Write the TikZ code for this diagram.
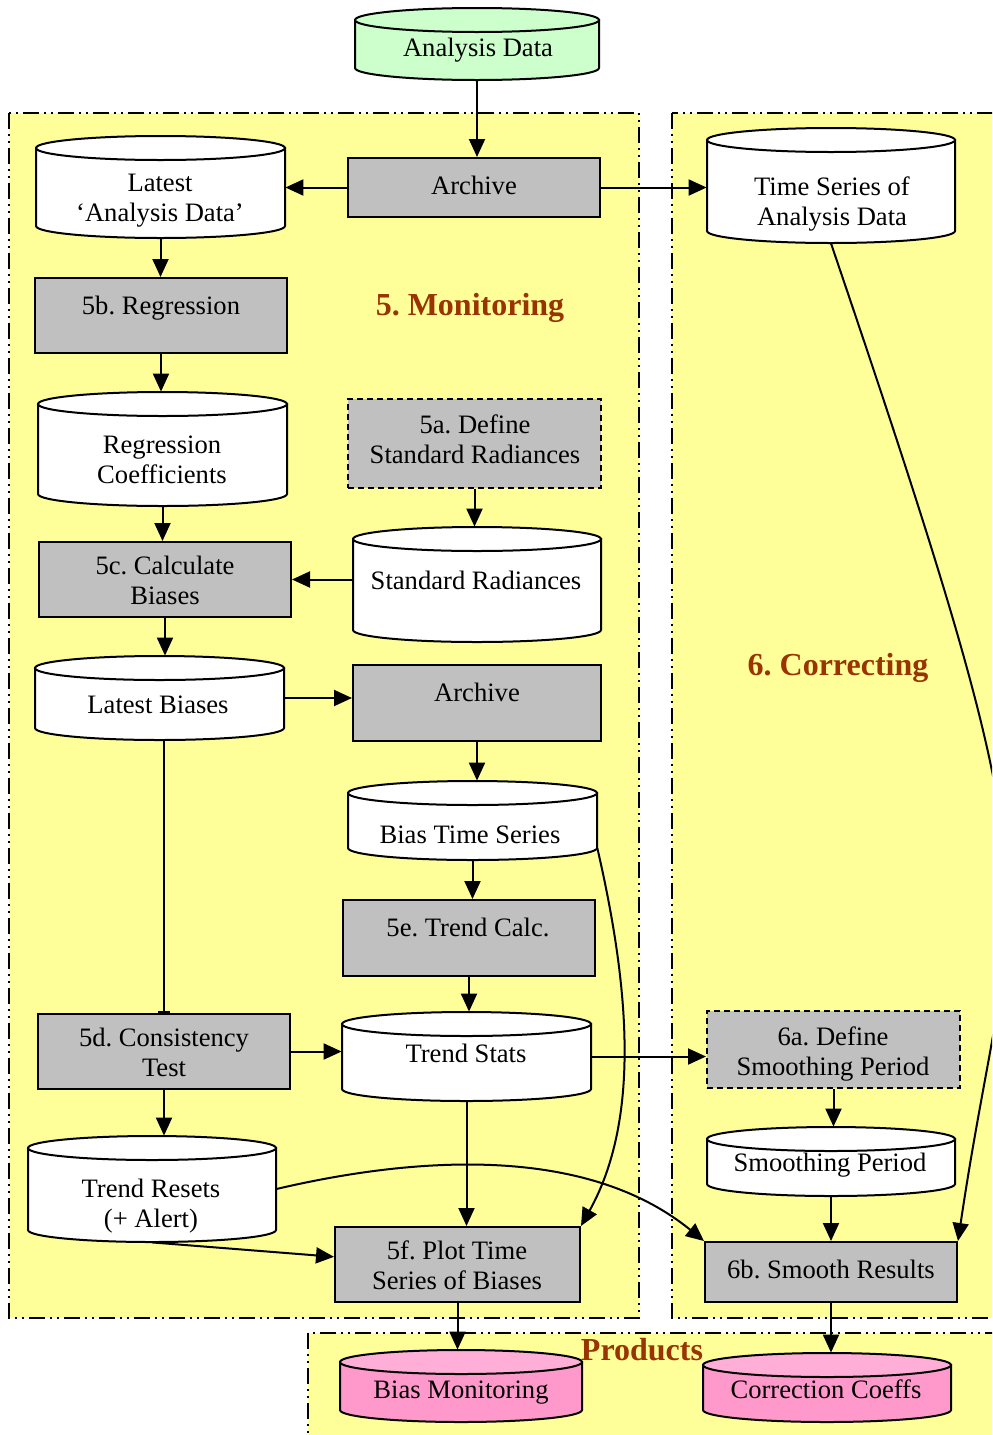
\documentclass[tikz,border=0pt]{standalone}
\usepackage{fontspec}
\setmainfont{Liberation Serif}
\frenchspacing
\usetikzlibrary{arrows.meta,fit,calc}
\definecolor{panelyellow}{RGB}{255,255,153}
\definecolor{boxgray}{RGB}{192,192,192}
\definecolor{datagreen}{RGB}{204,255,204}
\definecolor{prodpink}{RGB}{255,153,204}
\definecolor{prodpinktop}{RGB}{255,175,215}
\definecolor{titlebrown}{RGB}{153,51,0}
\tikzset{
  conn/.style={line width=1pt, -{Triangle[length=9pt,width=8pt]}},
  plainconn/.style={line width=1pt},
  panel/.style={draw, line width=1pt, fill=panelyellow,
    dash pattern=on 8pt off 2.5pt on 1pt off 2.5pt on 1pt off 2.5pt},
  procbox/.style={draw, line width=1pt, fill=boxgray},
  dashbox/.style={procbox, dash pattern=on 3pt off 2pt},
  cylline/.style={line width=1pt},
  lbl/.style={font=\fontsize{13.3}{15}\selectfont, align=center, inner sep=0pt,
    yshift=-1.4pt, execute at begin node=\strut, execute at end node=\strut},
  titletext/.style={font=\fontsize{16}{18}\bfseries\selectfont, text=titlebrown, inner sep=0pt},
}
% box: name, x1, y1, x2, y2, style, text pos, text
\newcommand{\procnode}[8]{%
  \node[#6, fit={(#2,#3)(#4,#5)}, inner sep=0pt] (#1) {};
  \node[lbl] (#1-t) at (#7) {#8};
}
% cylinder: name, x1, y1, x2, y2, body fill, top fill, text pos, text
\newcommand{\cylnode}[9]{%
  \pgfmathsetmacro\cylcx{(#2+#4)/2}%
  \pgfmathsetmacro\cylrx{(#4-#2)/2}%
  \pgfmathsetmacro\cylta{#3+12}%
  \pgfmathsetmacro\cylbb{#5-12}%
  \pgfmathsetmacro\cylbk{#5-12+6.63}%
  \pgfmathsetmacro\cylkl{(#2+#4)/2-0.5523*(#4-#2)/2}%
  \pgfmathsetmacro\cylkr{(#2+#4)/2+0.5523*(#4-#2)/2}%
  \node[fit={(#2,#3)(#4,#5)}, inner sep=0pt] (#1) {};
  \filldraw[cylline, fill=#6] (#2,\cylta) -- (#2,\cylbb)
    .. controls (#2,\cylbk) and (\cylkl,#5) .. (\cylcx,#5)
    .. controls (\cylkr,#5) and (#4,\cylbk) .. (#4,\cylbb) -- (#4,\cylta) -- cycle;
  \filldraw[cylline, fill=#7] (\cylcx,\cylta) ellipse [x radius=\cylrx, y radius=12];
  \node[lbl] (#1-t) at (#8) {#9};
}
\begin{document}
\begin{tikzpicture}[x=0.5pt, y=-0.5pt]
\clip (0,0) rectangle (992,1435);
\fill[white] (0,0) rectangle (992,1435);

% panels
\draw[panel] (9,113) rectangle (639,1318);
\draw[panel] (672,113) rectangle (1010,1318);
\draw[panel] (308,1333) rectangle (1010,1450);

% titles
\node[titletext] (t5) at (470,308) {5. Monitoring};
\node[titletext] (t6) at (838,668) {6. Correcting};
\node[titletext] (tp) at (642,1350) {Products};

% nodes
\cylnode{AD}{355}{8}{599}{80}{datagreen}{datagreen}{478,48}{Analysis Data}
\procnode{A1}{348}{158}{600}{217}{procbox}{474,186}{Archive}
\cylnode{LAD}{36}{136}{285}{238}{white}{white}{160,199}{Latest\\`Analysis Data'}
\cylnode{TS}{707}{128}{955}{243}{white}{white}{832,203}{Time Series of\\Analysis Data}
\procnode{B5}{35}{278}{287}{353}{procbox}{161,306}{5b. Regression}
\cylnode{RC}{38}{392}{287}{506}{white}{white}{162,461}{Regression\\Coefficients}
\procnode{A5}{348}{399}{601}{488}{dashbox}{475,441}{5a. Define\\Standard Radiances}
\cylnode{SR}{353}{527}{601}{642}{white}{white}{476,581}{Standard Radiances}
\procnode{C5}{39}{542}{291}{617}{procbox}{165,582}{5c. Calculate\\Biases}
\cylnode{LB}{35}{656}{284}{740}{white}{white}{158,705}{Latest Biases}
\procnode{A2}{353}{665}{601}{741}{procbox}{477,693}{Archive}
\cylnode{BTS}{348}{781}{597}{860}{white}{white}{470,835}{Bias Time Series}
\procnode{E5}{343}{900}{595}{976}{procbox}{468,928}{5e. Trend Calc.}
\procnode{D5}{38}{1014}{290}{1089}{procbox}{164,1054}{5d. Consistency\\Test}
\cylnode{TSt}{342}{1012}{591}{1101}{white}{white}{466,1054}{Trend Stats}
\procnode{A6}{707}{1011}{960}{1088}{dashbox}{833,1053}{6a. Define\\Smoothing Period}
\cylnode{SP}{707}{1127}{955}{1196}{white}{white}{830,1163}{Smoothing Period}
\cylnode{TR}{28}{1136}{276}{1242}{white}{white}{151,1205}{Trend Resets\\(+ Alert)}
\procnode{F5}{335}{1227}{580}{1302}{procbox}{457,1267}{5f. Plot Time\\Series of Biases}
\procnode{B6}{705}{1242}{957}{1302}{procbox}{831,1270}{6b. Smooth Results}
\cylnode{BM}{340}{1350}{582}{1422}{prodpink}{prodpinktop}{461,1390}{Bias Monitoring}
\cylnode{CC}{703}{1353}{951}{1422}{prodpink}{prodpinktop}{826,1390}{Correction Coeffs}

% connectors
\draw[conn] (AD.south) -- (AD.south |- A1.north);
\draw[conn] (A1.west) -- (A1.west -| LAD.east);
\draw[conn] (A1.east) -- (A1.east -| TS.west);
\draw[conn] (LAD.south) -- (LAD.south |- B5.north);
\draw[conn] (B5.south) -- (B5.south |- RC.north);
\draw[conn] (RC.south) -- (RC.south |- C5.north);
\draw[conn] (A5.south) -- (A5.south |- SR.north);
\draw[conn] (SR.west |- C5.east) -- (C5.east);
\draw[conn] (C5.south) -- (C5.south |- LB.north);
\draw[conn] (LB.east) -- (LB.east -| A2.west);
\draw[plainconn, -{Bar[width=6pt,line width=1pt]}] (D5.north |- LB.south) -- (D5.north);
\draw[conn] (A2.south) -- (A2.south |- BTS.north);
\draw[conn] (BTS.south) -- (BTS.south |- E5.north);
\draw[conn] (E5.south) -- (E5.south |- TSt.north);
\draw[conn] (D5.east) -- (D5.east -| TSt.west);
\draw[conn] (TSt.east) -- (TSt.east -| A6.west);
\draw[conn] (D5.south) -- (D5.south |- TR.north);
\draw[conn] (TSt.south) -- (TSt.south |- F5.north);
\draw[conn] ($(BTS.east)!0.7!(BTS.south east)$) .. controls (630,990) and (640,1120) .. (F5.north east);
\draw[conn] (TR.south) -- ($(F5.north west)!0.4!(F5.south west)$);
\draw[conn] (TR.east) .. controls (400,1160) and (580,1140) .. (B6.north west);
\draw[conn] (TS.south) .. controls (1068,941) and (1015,858) .. (B6.north east);
\draw[conn] (A6.south) -- (A6.south |- SP.north);
\draw[conn] (SP.south) -- (SP.south |- B6.north);
\draw[conn] (F5.south) -- (F5.south |- BM.north);
\draw[conn] (B6.south) -- (B6.south |- CC.north);
\end{tikzpicture}
\end{document}
